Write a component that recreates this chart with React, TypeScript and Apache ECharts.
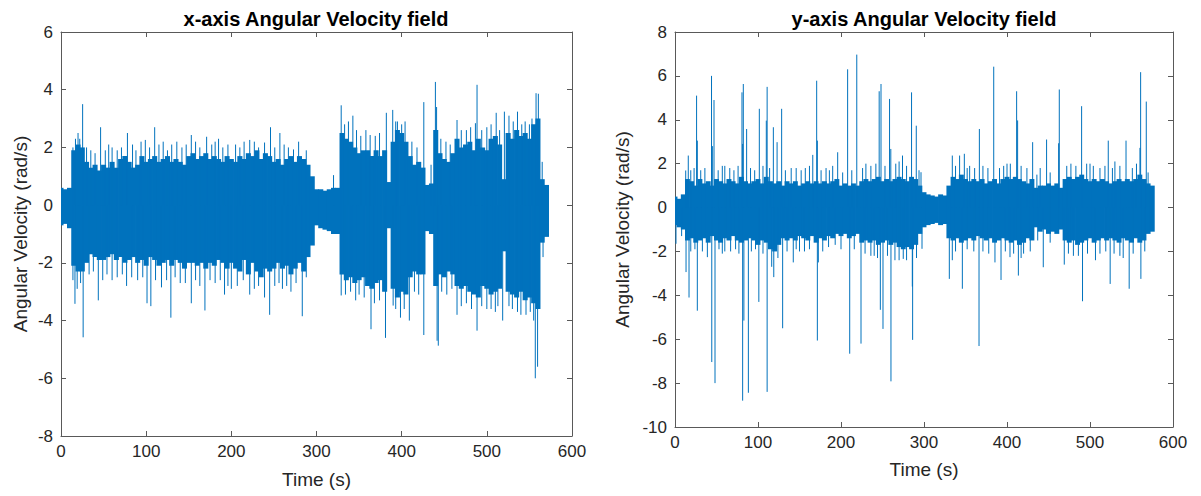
import React, { useEffect, useRef } from "react";
import * as echarts from "echarts";

// sample grid (s)
const TIME = [
  0, 5, 10, 15, 20, 25, 30, 35, 40, 45,
  50, 55, 60, 65, 70, 75, 80, 85, 90, 95,
  100, 105, 110, 115, 120, 125, 130, 135, 140, 145,
  150, 155, 160, 165, 170, 175, 180, 185, 190, 195,
  200, 205, 210, 215, 220, 225, 230, 235, 240, 245,
  250, 255, 260, 265, 270, 275, 280, 285, 290, 295,
  300, 305, 310, 315, 320, 325, 330, 335, 340, 345,
  350, 355, 360, 365, 370, 375, 380, 385, 390, 395,
  400, 405, 410, 415, 420, 425, 430, 435, 440, 445,
  450, 455, 460, 465, 470, 475, 480, 485, 490, 495,
  500, 505, 510, 515, 520, 525, 530, 535, 540, 545,
  550, 555, 560, 565, 570,
];
const TIME_Y = [...TIME, 575];
const BIN = 5;

// x-axis angular velocity: dense core envelope (upper / lower)
const X_UPPER = [
  0.6, 0.55, 0.6, 1.9, 2.1, 2.0, 1.5, 1.3, 1.4, 1.2,
  1.4, 1.3, 1.5, 1.3, 1.6, 1.7, 1.5, 1.3, 1.4, 1.7,
  1.5, 1.6, 1.7, 1.5, 1.6, 1.7, 1.5, 1.6, 1.5, 1.4,
  1.7, 1.8, 1.6, 1.7, 1.8, 1.6, 1.7, 1.6, 1.5, 1.7,
  1.6, 1.5, 1.7, 1.6, 1.8, 1.7, 1.9, 1.6, 1.8, 1.7,
  1.5, 1.6, 1.4, 1.6, 1.7, 1.5, 1.7, 1.6, 1.4, 1.0,
  0.55, 0.55, 0.5, 0.55, 0.6, 0.6, 2.5, 2.3, 2.2, 2.0,
  1.8, 1.9, 1.9, 1.7, 1.9, 1.7, 1.9, 0.8, 2.2, 2.6,
  2.5, 2.2, 1.7, 1.4, 1.5, 1.3, 0.7, 0.75, 2.6, 1.8,
  1.6, 1.5, 1.8, 2.3, 2.0, 2.1, 2.2, 1.9, 2.3, 2.0,
  1.9, 2.3, 2.4, 2.1, 0.9, 2.5, 2.3, 2.6, 2.4, 2.5,
  2.3, 2.8, 3.0, 0.9, 0.7,
];
const X_LOWER = [
  -0.7, -0.65, -0.8, -2.1, -2.3, -2.3, -2.0, -1.7, -1.8, -1.9,
  -1.9, -1.8, -1.7, -1.9, -1.8, -2.0, -1.9, -1.8, -2.0, -1.9,
  -2.1, -1.8, -1.9, -2.1, -2.0, -1.9, -2.1, -1.9, -2.0, -2.2,
  -2.0, -2.0, -2.1, -2.0, -2.2, -2.0, -2.1, -1.9, -2.0, -2.2,
  -2.0, -2.2, -2.3, -1.9, -2.4, -2.0, -2.3, -2.5, -2.2, -2.3,
  -2.2, -2.0, -2.2, -2.1, -2.4, -2.2, -2.0, -2.3, -1.8, -1.4,
  -0.7, -0.8, -0.85, -0.9, -1.0, -1.0, -2.4, -2.6, -2.5, -2.7,
  -2.6, -2.5, -2.8, -2.9, -2.7, -2.6, -3.0, -0.8, -2.9, -3.2,
  -3.0, -3.1, -2.5, -2.3, -2.4, -2.4, -0.9, -1.0, -2.8, -2.4,
  -2.5, -2.3, -2.4, -2.8, -2.9, -2.8, -3.0, -3.1, -3.2, -2.8,
  -2.9, -3.1, -3.0, -2.9, -1.6, -3.0, -3.1, -3.2, -3.0, -3.3,
  -3.2, -3.4, -3.6, -1.3, -1.1,
];
// x-axis individual peaks [time, value]
const X_PEAKS = [
  [14, 2.0], [17, 2.3], [20, 2.5], [22, 2.3], [25.4, 3.5], [30, 2.0], [35, 1.9],
  [40, 1.8], [46.5, 2.7], [52, 1.9], [56, 2.1], [60, 2.0], [66, 1.9], [71, 2.0],
  [78, 2.5], [84, 2.1], [88, 1.9], [94, 2.2], [99, 2.26], [104, 2.0], [110, 2.7],
  [115, 2.1], [120, 2.2], [125, 1.9], [130, 2.1], [136, 2.2], [142, 2.0], [147, 2.1],
  [153, 2.43], [158, 2.2], [163, 2.0], [171, 2.37], [177, 2.1], [181, 2.2], [185, 2.3],
  [190, 2.0], [196, 2.1], [205, 2.1], [210, 2.0], [215, 2.2], [221.6, 2.26], [227, 2.2],
  [232, 2.0], [239, 2.17], [246, 2.7], [251, 2.0], [257, 2.5], [262, 2.1], [267, 2.0],
  [273, 1.93], [279, 2.2], [288, 1.9], [320, 1.04], [329, 3.46], [333, 2.8],
  [337.5, 2.9], [342.7, 3.1], [347, 2.6], [352, 2.4], [358, 2.6], [363, 2.43],
  [369, 2.4], [374, 2.5], [382, 3.2], [389.5, 3.3], [393, 2.9], [395, 2.9], [400, 2.8],
  [404, 2.9], [412, 2.2], [418, 2.0], [426, 3.57], [434.5, 1.4], [439.6, 4.27],
  [441, 3.4], [446, 2.3], [452, 2.2], [457, 2.1], [465, 2.95], [470, 2.6], [476, 2.6],
  [481, 2.7], [486.6, 2.84], [488.5, 4.17], [494, 2.6], [500, 2.7], [505, 2.8],
  [511, 3.2], [515, 2.6], [520.6, 3.24], [526, 3.1], [531, 2.9], [536, 3.24],
  [541, 2.8], [545, 2.9], [550, 2.8], [553, 3.0], [557.8, 3.88], [560.5, 3.86],
  [565, 1.5],
  [14, -2.6], [16.4, -3.42], [19, -2.9], [23, -2.7], [26, -4.58], [33, -2.4],
  [38, -2.3], [43.8, -3.3], [49, -2.6], [54, -2.4], [60, -2.6], [66, -2.5], [72, -2.4],
  [77, -2.8], [83, -2.5], [90, -2.6], [96, -2.5], [101, -3.4], [105.5, -3.5],
  [111, -2.6], [118, -2.85], [124, -2.6], [129, -3.9], [134, -2.5], [140, -2.7],
  [146, -2.7], [153, -3.4], [158, -2.6], [163, -2.8], [169, -3.65], [175, -2.6],
  [181, -2.7], [187, -2.6], [192, -3.1], [196, -2.8], [200, -2.9], [207, -2.8],
  [214, -2.6], [221.6, -3.1], [227, -2.9], [232, -2.8], [239, -3.2], [245, -3.8],
  [251, -2.8], [256, -2.7], [260, -2.9], [265, -2.8], [270, -3.0], [276, -2.7],
  [283.3, -3.85], [288, -2.5], [329, -3.13], [334, -3.1], [340, -3.0], [346, -3.3],
  [350, -3.1], [356, -3.2], [364, -4.3], [368, -3.4], [374, -3.3], [381, -4.6],
  [390, -3.48], [393, -3.6], [398.6, -3.9], [403, -3.6], [409, -4.0], [415, -3.0],
  [420, -3.1], [426, -4.5], [441.6, -4.7], [443, -4.87], [447, -3.0], [453, -3.1],
  [459, -2.9], [465, -3.8], [470, -3.5], [476, -3.4], [482, -3.6], [488.5, -4.35],
  [494, -3.5], [500, -3.6], [505, -3.6], [510, -3.7], [513, -3.5], [518.6, -4.0],
  [526, -3.5], [530, -3.6], [536, -3.7], [540, -3.8], [546, -3.8], [551, -3.7],
  [555, -4.0], [556.9, -6.0], [559.6, -5.6], [566, -1.8],
];

// y-axis angular velocity: dense core envelope (upper / lower)
const Y_UPPER = [
  0.5, 0.4, 0.6, 1.3, 1.2, 1.0, 1.3, 1.1, 1.2, 1.0,
  1.3, 1.2, 1.1, 1.3, 1.2, 1.1, 1.4, 1.2, 1.1, 1.2,
  1.3, 1.1, 1.4, 1.2, 1.1, 1.2, 1.0, 1.2, 1.1, 1.2,
  1.0, 1.1, 1.2, 1.1, 1.2, 1.1, 1.2, 1.1, 1.2, 1.3,
  1.0, 1.1, 1.0, 1.1, 1.0, 1.2, 1.3, 1.2, 1.3, 1.4,
  1.2, 1.3, 1.2, 1.3, 1.4, 1.3, 1.2, 1.4, 1.3, 1.0,
  0.7, 0.6, 0.55, 0.5, 0.6, 0.55, 1.0, 1.4, 1.3, 1.5,
  1.3, 1.2, 1.3, 1.2, 1.3, 1.1, 1.2, 1.3, 1.1, 1.3,
  1.4, 1.3, 1.4, 1.3, 1.2, 1.1, 1.3, 0.9, 1.0, 1.0,
  1.1, 1.0, 1.1, 0.9, 1.3, 1.4, 1.3, 1.4, 1.5, 1.3,
  1.2, 1.3, 1.2, 1.3, 1.2, 1.1, 1.2, 1.3, 1.2, 1.3,
  1.2, 1.3, 1.5, 1.3, 1.1, 1.0,
];
const Y_LOWER = [
  -0.8, -0.9, -1.0, -1.5, -1.4, -1.6, -1.5, -1.4, -1.6, -1.3,
  -1.5, -1.6, -1.4, -1.5, -1.3, -1.5, -1.6, -1.5, -1.4, -1.5,
  -1.7, -1.5, -1.6, -1.9, -2.0, -1.7, -1.4, -1.5, -1.4, -1.5,
  -1.3, -1.4, -1.5, -1.3, -1.6, -1.4, -1.5, -1.3, -1.4, -1.2,
  -1.3, -1.2, -1.4, -1.3, -1.2, -1.6, -1.5, -1.6, -1.5, -1.7,
  -1.6, -1.5, -1.7, -1.6, -1.8, -1.9, -1.8, -1.9, -1.7, -1.2,
  -0.9, -0.8, -0.75, -0.7, -0.8, -0.75, -1.4, -1.5, -1.4, -1.6,
  -1.5, -1.4, -1.5, -1.3, -1.4, -1.5, -1.4, -1.6, -1.5, -1.4,
  -1.5, -1.6, -1.5, -1.7, -1.6, -1.4, -1.5, -0.9, -1.1, -1.0,
  -1.2, -1.1, -1.2, -1.0, -1.5, -1.6, -1.5, -1.7, -1.6, -1.5,
  -1.4, -1.6, -1.5, -1.4, -1.5, -1.4, -1.5, -1.6, -1.4, -1.5,
  -1.6, -1.4, -1.6, -1.5, -1.2, -1.1,
];
// y-axis individual peaks [time, value]
const Y_PEAKS = [
  [12.9, 1.69], [16, 2.37], [19, 1.7], [23, 1.8], [26, 5.1], [26.9, 3.05], [31, 1.7],
  [36, 1.8], [44, 6.0], [45, 2.8], [47, 4.9], [52, 1.7], [57, 1.9], [60, 1.9],
  [66, 1.8], [71, 1.7], [76, 1.9], [80.7, 5.25], [81.5, 2.9], [82.3, 5.63], [86.3, 3.58],
  [91, 1.8], [96, 1.7], [101.6, 4.5], [106, 1.9], [110, 3.96], [111, 5.5], [114, 1.8],
  [118.5, 3.66], [123, 2.98], [128.5, 4.5], [133, 1.7], [140, 1.8], [146, 1.8],
  [152, 1.7], [157, 1.8], [162, 1.9], [166, 2.4], [170.7, 5.78], [171.5, 3.05],
  [176, 1.7], [182, 1.8], [186, 1.7], [190, 1.9], [196, 2.52], [202, 1.6], [208, 6.3],
  [213, 1.7], [219, 6.97], [226, 1.8], [230, 2.0], [236, 1.9], [242, 2.0], [246, 5.3],
  [248.2, 5.63], [253, 1.9], [258.5, 4.95], [260, 2.67], [266, 2.0], [270, 2.1],
  [274.1, 2.37], [279, 1.9], [285, 5.25], [290.7, 3.73], [294, 1.7], [296.4, 1.61],
  [334.1, 2.37], [338, 1.9], [342.9, 2.37], [348.6, 2.45], [352, 1.8], [355, 1.9],
  [361, 1.8], [366.7, 3.58], [371, 1.9], [377, 1.8], [384, 6.42], [391, 1.8],
  [396, 1.9], [400, 2.0], [404, 2.0], [411.6, 5.3], [412.8, 3.97], [417, 1.9],
  [424, 1.8], [430.9, 2.98], [436, 1.5], [440, 1.8], [447.7, 3.1], [452, 1.6],
  [462.2, 2.93], [463, 5.38], [472, 1.9], [477, 2.0], [483, 1.9], [489.9, 4.62],
  [496, 2.0], [500, 2.0], [504, 1.9], [512, 1.8], [518, 1.9], [522, 3.05], [527, 1.8],
  [530, 2.1], [536, 1.9], [543.4, 3.05], [551, 1.8], [556, 2.0], [560.2, 2.72],
  [561, 6.17], [567.8, 4.83], [570, 1.6],
  [1.2, -1.65], [8, -1.3], [13.3, -2.94], [16.9, -4.1], [19, -2.0], [24, -1.9],
  [26.9, -4.7], [33, -2.0], [39, -2.26], [44.3, -7.04], [48.2, -8.0], [53, -1.9],
  [57, -2.1], [60, -2.0], [67, -2.0], [73, -1.9], [77, -2.1], [81.5, -8.8], [83, -5.15],
  [88.4, -8.44], [92, -2.0], [97, -1.9], [101, -4.3], [106, -2.1], [111, -8.4],
  [116.5, -2.7], [119, -3.17], [124, -2.3], [129.7, -5.5], [135, -2.0], [142.5, -2.5],
  [146, -1.9], [150, -2.0], [156, -2.0], [162, -1.9], [171.5, -6.06], [172.7, -2.5],
  [178, -2.0], [185, -1.8], [193, -1.7], [200, -1.9], [210.5, -6.66], [216, -1.9],
  [224.1, -6.2], [229, -2.1], [236, -2.2], [240, -2.2], [244, -2.3], [247.4, -4.66],
  [250.6, -5.53], [256, -2.2], [260.2, -7.92], [265, -2.4], [270, -2.4], [275, -2.34],
  [279, -2.4], [285.9, -3.6], [286.3, -6.03], [291, -2.3], [297.6, -1.88],
  [330.5, -3.25], [334.1, -2.4], [338, -2.0], [346.2, -3.7], [352, -1.9], [360, -2.0],
  [366.3, -6.31], [371, -2.0], [378, -2.1], [385.5, -2.5], [392.8, -3.3], [398, -2.0],
  [403.6, -2.26], [408, -2.1], [413.7, -3.1], [417, -2.3], [420, -2.1], [428, -2.0],
  [437, -1.5], [443.7, -2.72], [452, -1.6], [469, -2.6], [474, -2.1], [480, -2.2],
  [486, -2.2], [491, -4.27], [497, -2.1], [506.6, -2.4], [512, -2.1], [519, -2.0],
  [524.3, -3.48], [529, -2.1], [536, -2.2], [540, -2.3], [547.2, -3.7], [552, -2.1],
  [561.3, -3.25], [566, -2.0],
];

const TITLES = ["x-axis Angular Velocity field", "y-axis Angular Velocity field"];
const X_NAME = "Time (s)";
const Y_NAME = "Angular Velocity (rad/s)";

const BLUE = "#0072BD";
const AXIS = "#595959";
const TEXT = "#262626";
const FONT = "'Liberation Sans', Arial, Helvetica, sans-serif";

// dense band: one bar per sample bin, from lower to upper envelope
function bandSeries(times: number[], upper: number[], lower: number[], xi: number, yi: number) {
  return {
    type: "custom",
    xAxisIndex: xi,
    yAxisIndex: yi,
    data: times.map((t, i) => [t, lower[i], upper[i]]),
    silent: true,
    clip: true,
    encode: { x: 0, y: [1, 2] },
    z: 2,
    renderItem: (_p: any, api: any) => {
      const t = api.value(0);
      const a = api.coord([t - BIN / 2, api.value(2)]);
      const b = api.coord([t + BIN / 2, api.value(1)]);
      return {
        type: "rect",
        shape: { x: a[0] - 0.4, y: a[1], width: b[0] - a[0] + 0.8, height: b[1] - a[1] },
        style: { fill: BLUE },
      };
    },
  };
}

function peakSeries(peaks: number[][], xi: number, yi: number) {
  return {
    type: "custom",
    xAxisIndex: xi,
    yAxisIndex: yi,
    data: peaks,
    silent: true,
    clip: true,
    encode: { x: 0, y: 1 },
    z: 3,
    renderItem: (_p: any, api: any) => {
      const t = api.value(0);
      const v = api.value(1);
      const a = api.coord([t, 0]);
      const b = api.coord([t, v]);
      return {
        type: "line",
        shape: { x1: a[0], y1: a[1], x2: b[0], y2: b[1] },
        style: { stroke: BLUE, lineWidth: 1 },
      };
    },
  };
}

function xAxes(grid: number, gap: number) {
  const base = {
    type: "value",
    gridIndex: grid,
    min: 0,
    max: 600,
    interval: 100,
    splitLine: { show: false },
    axisLine: { show: true, onZero: false, lineStyle: { color: AXIS, width: 1 } },
    axisTick: { show: true, inside: true, length: 5, lineStyle: { color: AXIS } },
  };
  return [
    {
      ...base,
      position: "bottom",
      axisLabel: { show: true, color: TEXT, fontSize: 17, fontFamily: FONT, margin: 7 },
      name: X_NAME,
      nameLocation: "middle",
      nameGap: gap,
      nameTextStyle: { color: TEXT, fontSize: 19, fontFamily: FONT },
    },
    { ...base, position: "top", axisLabel: { show: false } },
  ];
}

function yAxes(grid: number, min: number, max: number, gap: number) {
  const base = {
    type: "value",
    gridIndex: grid,
    min,
    max,
    interval: 2,
    splitLine: { show: false },
    axisLine: { show: true, onZero: false, lineStyle: { color: AXIS, width: 1 } },
    axisTick: { show: true, inside: true, length: 5, lineStyle: { color: AXIS } },
  };
  return [
    {
      ...base,
      position: "left",
      axisLabel: { show: true, color: TEXT, fontSize: 17, fontFamily: FONT, margin: 8 },
      name: Y_NAME,
      nameLocation: "middle",
      nameGap: gap,
      nameRotate: 90,
      nameTextStyle: { color: TEXT, fontSize: 19, fontFamily: FONT },
    },
    { ...base, position: "right", axisLabel: { show: false } },
  ];
}

function titleText(text: string, x: number) {
  return {
    type: "text",
    x,
    y: 19,
    style: {
      text,
      fill: "#000",
      font: `bold 20px ${FONT}`,
      align: "center",
      verticalAlign: "middle",
    },
  };
}

export default function App() {
  const ref = useRef<HTMLDivElement>(null);
  useEffect(() => {
    if (!ref.current) return;
    const chart = echarts.init(ref.current, undefined, { renderer: "svg" });
    chart.setOption({
      animation: false,
      backgroundColor: "#ffffff",
      grid: [
        { left: 61, top: 32, width: 511, height: 404 },
        { left: 675, top: 32, width: 498, height: 395 },
      ],
      graphic: [titleText(TITLES[0], 316), titleText(TITLES[1], 924)],
      xAxis: [...xAxes(0, 34), ...xAxes(1, 33)],
      yAxis: [...yAxes(0, -8, 6, 31), ...yAxes(1, -10, 8, 43)],
      series: [
        bandSeries(TIME, X_UPPER, X_LOWER, 0, 0),
        peakSeries(X_PEAKS, 0, 0),
        bandSeries(TIME_Y, Y_UPPER, Y_LOWER, 2, 2),
        peakSeries(Y_PEAKS, 2, 2),
      ],
    });
    return () => chart.dispose();
  }, []);
  return (
    <div
      ref={ref}
      style={{ position: "fixed", left: 0, top: 0, width: 1201, height: 496, background: "#fff" }}
    />
  );
}
